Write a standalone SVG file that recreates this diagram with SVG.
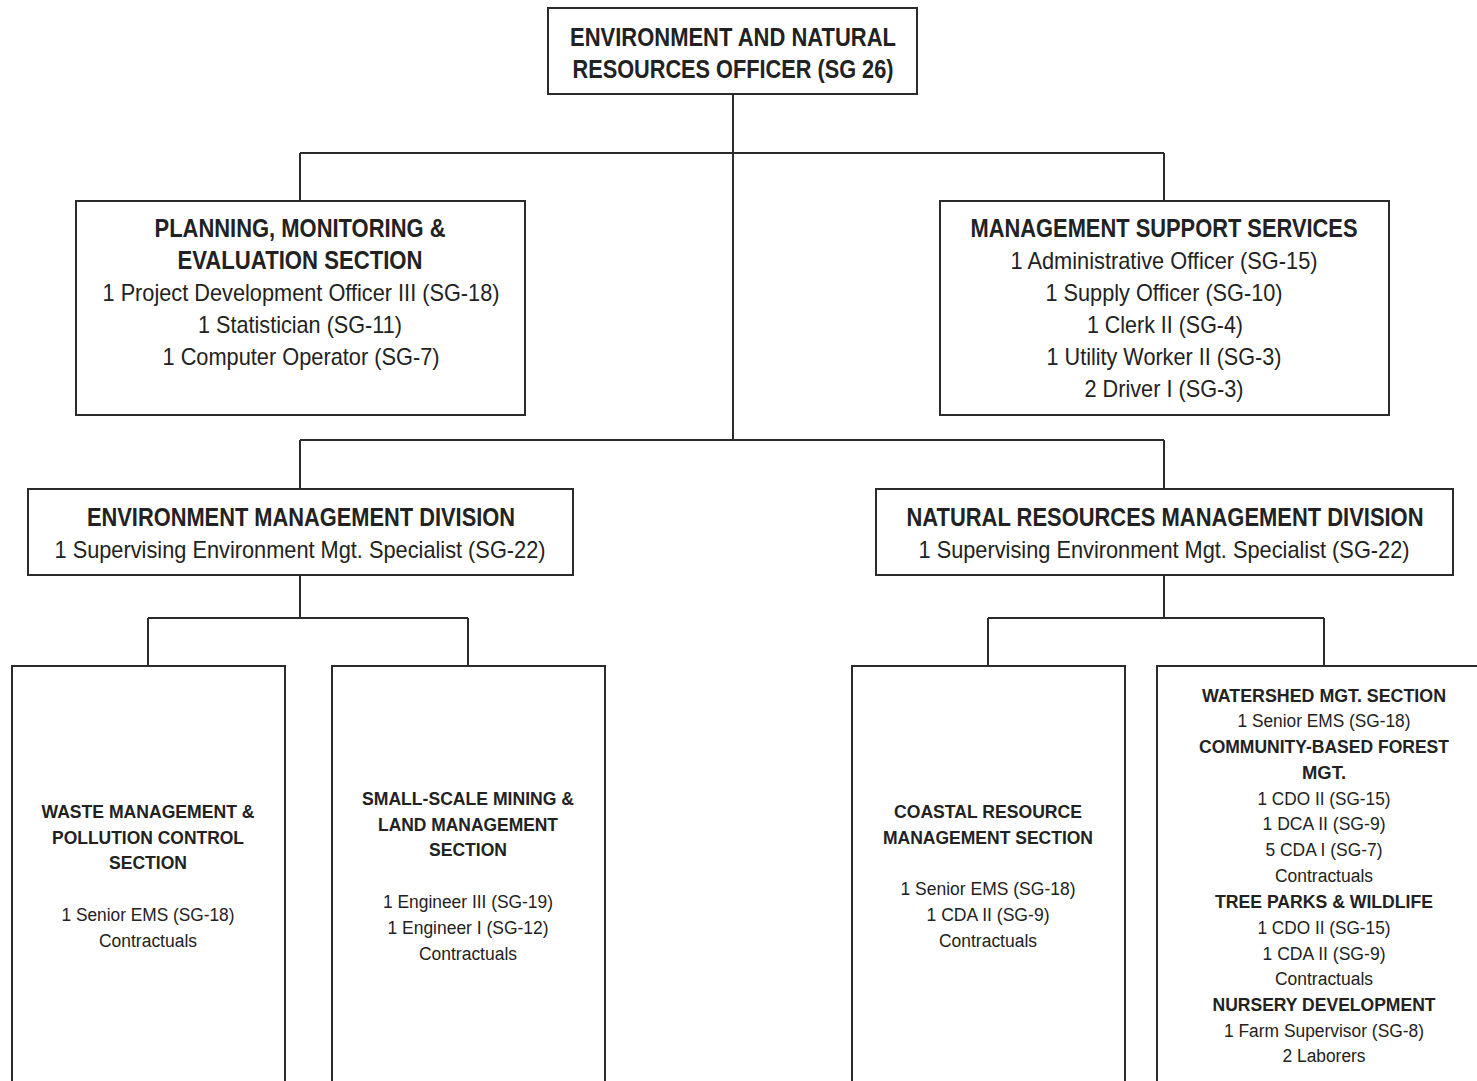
<svg xmlns="http://www.w3.org/2000/svg" width="1477" height="1081" viewBox="0 0 1477 1081">
<style>
.box{fill:#fff;stroke:#2b2b2b;stroke-width:2}
.ln{fill:none;stroke:#2b2b2b;stroke-width:2}
text{font-family:"Liberation Sans Narrow","Liberation Sans",Arial,sans-serif;fill:#222;text-anchor:middle}
.hb{font-weight:bold;font-size:25px}
.hr{font-size:24px}
.sb{font-weight:bold;font-size:19px}
.sr{font-size:18px}
</style>
<rect width="1477" height="1081" fill="#fff"/>
<g id="connectors">
<path class="ln" d="M733 94V440M300 153H1164M300 153V201M1164 153V201M300 440H1164M300 440V489M1164 440V489"/>
<path class="ln" d="M300 575V618M148 618H468M148 618V666M468 618V666"/>
<path class="ln" d="M1164 575V618M988 618H1324M988 618V666M1324 618V666"/>
</g>
<g id="officer">
<rect class="box" x="548" y="8" width="369" height="86"/>
<text class="hb" x="733" y="46" textLength="326" lengthAdjust="spacingAndGlyphs">ENVIRONMENT AND NATURAL</text>
<text class="hb" x="733" y="78" textLength="321" lengthAdjust="spacingAndGlyphs">RESOURCES OFFICER (SG 26)</text>
</g>
<g id="pme">
<rect class="box" x="76" y="201" width="449" height="214"/>
<text class="hb" x="300" y="237" textLength="291" lengthAdjust="spacingAndGlyphs">PLANNING, MONITORING &amp;</text>
<text class="hb" x="300" y="269" textLength="245" lengthAdjust="spacingAndGlyphs">EVALUATION SECTION</text>
<text class="hr" x="301" y="301" textLength="397" lengthAdjust="spacingAndGlyphs">1 Project Development Officer III (SG-18)</text>
<text class="hr" x="300" y="333" textLength="204" lengthAdjust="spacingAndGlyphs">1 Statistician (SG-11)</text>
<text class="hr" x="301" y="365" textLength="277" lengthAdjust="spacingAndGlyphs">1 Computer Operator (SG-7)</text>
</g>
<g id="mss">
<rect class="box" x="940" y="201" width="449" height="214"/>
<text class="hb" x="1164" y="237" textLength="387" lengthAdjust="spacingAndGlyphs">MANAGEMENT SUPPORT SERVICES</text>
<text class="hr" x="1164" y="269" textLength="307" lengthAdjust="spacingAndGlyphs">1 Administrative Officer (SG-15)</text>
<text class="hr" x="1164" y="301" textLength="237" lengthAdjust="spacingAndGlyphs">1 Supply Officer (SG-10)</text>
<text class="hr" x="1165" y="333" textLength="156" lengthAdjust="spacingAndGlyphs">1 Clerk II (SG-4)</text>
<text class="hr" x="1164" y="365" textLength="235" lengthAdjust="spacingAndGlyphs">1 Utility Worker II (SG-3)</text>
<text class="hr" x="1164" y="397" textLength="159" lengthAdjust="spacingAndGlyphs">2 Driver I (SG-3)</text>
</g>
<g id="emd">
<rect class="box" x="28" y="489" width="545" height="86"/>
<text class="hb" x="301" y="526" textLength="428" lengthAdjust="spacingAndGlyphs">ENVIRONMENT MANAGEMENT DIVISION</text>
<text class="hr" x="300" y="558" textLength="491" lengthAdjust="spacingAndGlyphs">1 Supervising Environment Mgt. Specialist (SG-22)</text>
</g>
<g id="nrmd">
<rect class="box" x="876" y="489" width="577" height="86"/>
<text class="hb" x="1165" y="526" textLength="517" lengthAdjust="spacingAndGlyphs">NATURAL RESOURCES MANAGEMENT DIVISION</text>
<text class="hr" x="1164" y="558" textLength="491" lengthAdjust="spacingAndGlyphs">1 Supervising Environment Mgt. Specialist (SG-22)</text>
</g>
<g id="waste">
<rect class="box" x="12" y="666" width="273" height="430"/>
<text class="sb" x="148" y="818" textLength="213" lengthAdjust="spacingAndGlyphs">WASTE MANAGEMENT &amp;</text>
<text class="sb" x="148" y="844" textLength="192" lengthAdjust="spacingAndGlyphs">POLLUTION CONTROL</text>
<text class="sb" x="148" y="869" textLength="78" lengthAdjust="spacingAndGlyphs">SECTION</text>
<text class="sr" x="148" y="921" textLength="173" lengthAdjust="spacingAndGlyphs">1 Senior EMS (SG-18)</text>
<text class="sr" x="148" y="947" textLength="98" lengthAdjust="spacingAndGlyphs">Contractuals</text>
</g>
<g id="mining">
<rect class="box" x="332" y="666" width="273" height="430"/>
<text class="sb" x="468" y="805" textLength="212" lengthAdjust="spacingAndGlyphs">SMALL-SCALE MINING &amp;</text>
<text class="sb" x="468" y="831" textLength="180" lengthAdjust="spacingAndGlyphs">LAND MANAGEMENT</text>
<text class="sb" x="468" y="856" textLength="78" lengthAdjust="spacingAndGlyphs">SECTION</text>
<text class="sr" x="468" y="908" textLength="170" lengthAdjust="spacingAndGlyphs">1 Engineer III (SG-19)</text>
<text class="sr" x="468" y="934" textLength="161" lengthAdjust="spacingAndGlyphs">1 Engineer I (SG-12)</text>
<text class="sr" x="468" y="960" textLength="98" lengthAdjust="spacingAndGlyphs">Contractuals</text>
</g>
<g id="coastal">
<rect class="box" x="852" y="666" width="273" height="430"/>
<text class="sb" x="988" y="818" textLength="188" lengthAdjust="spacingAndGlyphs">COASTAL RESOURCE</text>
<text class="sb" x="988" y="844" textLength="210" lengthAdjust="spacingAndGlyphs">MANAGEMENT SECTION</text>
<text class="sr" x="988" y="895" textLength="175" lengthAdjust="spacingAndGlyphs">1 Senior EMS (SG-18)</text>
<text class="sr" x="988" y="921" textLength="123" lengthAdjust="spacingAndGlyphs">1 CDA II (SG-9)</text>
<text class="sr" x="988" y="947" textLength="98" lengthAdjust="spacingAndGlyphs">Contractuals</text>
</g>
<g id="watershed">
<rect class="box" x="1157" y="666" width="340" height="430"/>
<text class="sb" x="1324" y="702" textLength="244" lengthAdjust="spacingAndGlyphs">WATERSHED MGT. SECTION</text>
<text class="sr" x="1324" y="727" textLength="173" lengthAdjust="spacingAndGlyphs">1 Senior EMS (SG-18)</text>
<text class="sb" x="1324" y="753" textLength="250" lengthAdjust="spacingAndGlyphs">COMMUNITY-BASED FOREST</text>
<text class="sb" x="1324" y="779" textLength="44" lengthAdjust="spacingAndGlyphs">MGT.</text>
<text class="sr" x="1324" y="805" textLength="133" lengthAdjust="spacingAndGlyphs">1 CDO II (SG-15)</text>
<text class="sr" x="1324" y="830" textLength="123" lengthAdjust="spacingAndGlyphs">1 DCA II (SG-9)</text>
<text class="sr" x="1324" y="856" textLength="117" lengthAdjust="spacingAndGlyphs">5 CDA I (SG-7)</text>
<text class="sr" x="1324" y="882" textLength="98" lengthAdjust="spacingAndGlyphs">Contractuals</text>
<text class="sb" x="1324" y="908" textLength="218" lengthAdjust="spacingAndGlyphs">TREE PARKS &amp; WILDLIFE</text>
<text class="sr" x="1324" y="934" textLength="133" lengthAdjust="spacingAndGlyphs">1 CDO II (SG-15)</text>
<text class="sr" x="1324" y="960" textLength="123" lengthAdjust="spacingAndGlyphs">1 CDA II (SG-9)</text>
<text class="sr" x="1324" y="985" textLength="98" lengthAdjust="spacingAndGlyphs">Contractuals</text>
<text class="sb" x="1324" y="1011" textLength="223" lengthAdjust="spacingAndGlyphs">NURSERY DEVELOPMENT</text>
<text class="sr" x="1324" y="1037" textLength="200" lengthAdjust="spacingAndGlyphs">1 Farm Supervisor (SG-8)</text>
<text class="sr" x="1324" y="1062" textLength="83" lengthAdjust="spacingAndGlyphs">2 Laborers</text>
</g>
</svg>
